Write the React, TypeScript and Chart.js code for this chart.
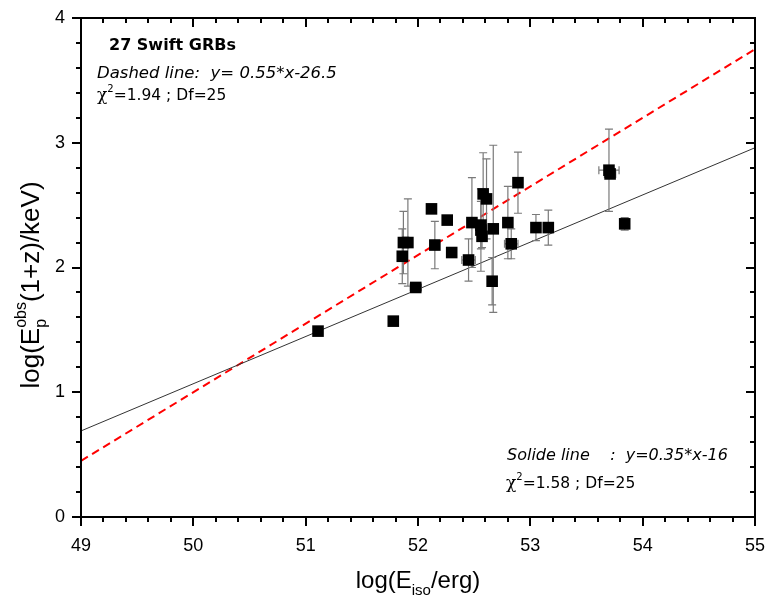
import React, { useEffect, useRef } from "react";
import { Chart, registerables } from "chart.js";

Chart.register(...registerables);

// ---- data ----
const logEiso = [
  51.11, 51.78, 51.86, 51.87, 51.91, 51.98, 52.12, 52.15, 52.26, 52.3,
  52.45, 52.48, 52.56, 52.56, 52.57, 52.58, 52.61, 52.66, 52.67, 52.8,
  52.83, 52.89, 53.05, 53.16, 53.7, 53.71, 53.84,
];
const logEp = [
  1.49, 1.57, 2.09, 2.2, 2.2, 1.84, 2.47, 2.18, 2.38, 2.12,
  2.06, 2.36, 2.34, 2.3, 2.25, 2.59, 2.55, 1.89, 2.31, 2.36,
  2.19, 2.68, 2.32, 2.32, 2.78, 2.75, 2.35,
];
const logEpErr = [
  0, 0, 0.22, 0.25, 0.35, 0.03, 0.02, 0.19, 0, 0,
  0.17, 0.36, 0.19, 0.33, 0.09, 0.33, 0.32, 0.19, 0.67, 0.29,
  0.12, 0.245, 0.105, 0.14, 0.33, 0, 0.05,
];
const logEisoErr = [
  0, 0, 0, 0.03, 0.03, 0.05, 0.04, 0, 0, 0,
  0.06, 0, 0, 0, 0, 0, 0, 0, 0, 0,
  0.06, 0, 0, 0, 0.09, 0.05, 0,
];
const fitX = [49, 55];
const dashedFitY = [0.45, 3.75];
const solidFitY = [0.69, 2.96];
const xTickValues = [49, 50, 51, 52, 53, 54, 55];
const yTickValues = [0, 1, 2, 3, 4];

const TICK_FONT = "'Liberation Sans', Arial, sans-serif";
const NOTE_FONT = "'DejaVu Sans', Verdana, sans-serif";

type Run = { text: string; size: number; dy?: number; bold?: boolean; italic?: boolean; family?: string; group?: number };

function fontOf(r: Run, family: string) {
  return `${r.italic ? "italic " : ""}${r.bold ? "bold " : ""}${r.size}px ${r.family || family}`;
}

// draws runs; runs with same group number share the same start x (stacked sub/sup)
function drawRuns(ctx: CanvasRenderingContext2D, runs: Run[], x: number, y: number, family: string, align: "left" | "center") {
  const widths = runs.map((r) => {
    ctx.font = fontOf(r, family);
    return ctx.measureText(r.text).width;
  });
  let total = 0;
  let i = 0;
  while (i < runs.length) {
    const g = runs[i].group;
    if (g !== undefined) {
      let w = 0;
      while (i < runs.length && runs[i].group === g) {
        w = Math.max(w, widths[i]);
        i++;
      }
      total += w;
    } else {
      total += widths[i];
      i++;
    }
  }
  let cx = align === "center" ? x - total / 2 : x;
  i = 0;
  ctx.textBaseline = "alphabetic";
  ctx.textAlign = "left";
  while (i < runs.length) {
    const g = runs[i].group;
    if (g !== undefined) {
      let w = 0;
      while (i < runs.length && runs[i].group === g) {
        ctx.font = fontOf(runs[i], family);
        ctx.fillText(runs[i].text, cx, y + (runs[i].dy || 0));
        w = Math.max(w, widths[i]);
        i++;
      }
      cx += w;
    } else {
      ctx.font = fontOf(runs[i], family);
      ctx.fillText(runs[i].text, cx, y + (runs[i].dy || 0));
      cx += widths[i];
      i++;
    }
  }
}

const errorBarPlugin = {
  id: "errorBars",
  beforeDatasetDraw(chart: any, args: any) {
    if (args.index !== 2) return;
    const { ctx, scales } = chart;
    const x = scales.x;
    const y = scales.y;
    ctx.save();
    ctx.strokeStyle = "#7a7a7a";
    ctx.lineWidth = 1.2;
    const cap = 4;
    for (let i = 0; i < logEiso.length; i++) {
      const px = x.getPixelForValue(logEiso[i]);
      const py = y.getPixelForValue(logEp[i]);
      if (logEpErr[i] > 0) {
        const y1 = y.getPixelForValue(logEp[i] + logEpErr[i]);
        const y2 = y.getPixelForValue(logEp[i] - logEpErr[i]);
        ctx.beginPath();
        ctx.moveTo(px, y1);
        ctx.lineTo(px, y2);
        ctx.moveTo(px - cap, y1);
        ctx.lineTo(px + cap, y1);
        ctx.moveTo(px - cap, y2);
        ctx.lineTo(px + cap, y2);
        ctx.stroke();
      }
      if (logEisoErr[i] > 0) {
        const x1 = x.getPixelForValue(logEiso[i] - logEisoErr[i]);
        const x2 = x.getPixelForValue(logEiso[i] + logEisoErr[i]);
        ctx.beginPath();
        ctx.moveTo(x1, py);
        ctx.lineTo(x2, py);
        ctx.moveTo(x1, py - cap);
        ctx.lineTo(x1, py + cap);
        ctx.moveTo(x2, py - cap);
        ctx.lineTo(x2, py + cap);
        ctx.stroke();
      }
    }
    ctx.restore();
  },
};

const decorPlugin = {
  id: "decor",
  afterDraw(chart: any) {
    const { ctx, chartArea: a, scales } = chart;
    const x = scales.x;
    const y = scales.y;
    ctx.save();
    ctx.strokeStyle = "#000";
    ctx.lineWidth = 2;
    ctx.strokeRect(a.left, a.top, a.right - a.left, a.bottom - a.top);
    const MAJ = 9;
    const MIN = 5;
    for (let k = 0; k <= 30; k++) {
      const v = 49 + k * 0.2;
      const major = k % 5 === 0;
      const L = major ? MAJ : MIN;
      const px = Math.round(x.getPixelForValue(v));
      ctx.beginPath();
      ctx.moveTo(px, a.bottom);
      ctx.lineTo(px, a.bottom + L);
      ctx.moveTo(px, a.top);
      ctx.lineTo(px, a.top + L);
      ctx.stroke();
    }
    for (let k = 0; k <= 20; k++) {
      const v = k * 0.2;
      const major = k % 5 === 0;
      const L = major ? MAJ : MIN;
      const py = Math.round(y.getPixelForValue(v));
      ctx.beginPath();
      ctx.moveTo(a.left, py);
      ctx.lineTo(a.left - L, py);
      ctx.moveTo(a.right, py);
      ctx.lineTo(a.right - L, py);
      ctx.stroke();
    }

    ctx.fillStyle = "#000";
    // axis titles
    drawRuns(
      ctx,
      [
        { text: "log(E", size: 24 },
        { text: "iso", size: 15, dy: 7 },
        { text: "/erg)", size: 24 },
      ],
      (a.left + a.right) / 2,
      588,
      TICK_FONT,
      "center"
    );
    ctx.save();
    ctx.translate(39, 285);
    ctx.rotate(-Math.PI / 2);
    drawRuns(
      ctx,
      [
        { text: "log(E", size: 26 },
        { text: "p", size: 16, dy: 7, group: 1 },
        { text: "obs", size: 16, dy: -13, group: 1 },
        { text: "(1+z)/keV)", size: 26 },
      ],
      0,
      0,
      TICK_FONT,
      "center"
    );
    ctx.restore();

    // annotations
    drawRuns(ctx, [{ text: "27 Swift GRBs", size: 16, bold: true }], 109, 50, NOTE_FONT, "left");
    drawRuns(ctx, [{ text: "Dashed line:  y= 0.55*x-26.5", size: 16.5, italic: true }], 97, 78, NOTE_FONT, "left");
    drawRuns(
      ctx,
      [
        { text: "χ", size: 17, family: "'DejaVu Serif', serif" },
        { text: "2", size: 10, dy: -8 },
        { text: "=1.94 ; Df=25", size: 15.5 },
      ],
      97,
      100,
      NOTE_FONT,
      "left"
    );
    drawRuns(ctx, [{ text: "Solide line    :  y=0.35*x-16", size: 16, italic: true }], 507, 460, NOTE_FONT, "left");
    drawRuns(
      ctx,
      [
        { text: "χ", size: 17, family: "'DejaVu Serif', serif" },
        { text: "2", size: 10, dy: -8 },
        { text: "=1.58 ; Df=25", size: 15.5 },
      ],
      506,
      488,
      NOTE_FONT,
      "left"
    );
    ctx.restore();
  },
};

function zeroPad(s: any) {
  s.paddingTop = 0;
  s.paddingBottom = 0;
  s.paddingLeft = 0;
  s.paddingRight = 0;
}

export default function App() {
  const ref = useRef<HTMLCanvasElement | null>(null);
  useEffect(() => {
    if (!ref.current) return;
    const chart = new Chart(ref.current, {
      type: "scatter",
      data: {
        datasets: [
          {
            label: "dashed",
            data: fitX.map((v, i) => ({ x: v, y: dashedFitY[i] })),
            showLine: true,
            borderColor: "#ff0000",
            borderWidth: 2,
            borderDash: [8, 5],
            pointRadius: 0,
            fill: false,
            order: 2,
          },
          {
            label: "solid",
            data: fitX.map((v, i) => ({ x: v, y: solidFitY[i] })),
            showLine: true,
            borderColor: "#333333",
            borderWidth: 1,
            pointRadius: 0,
            fill: false,
            order: 1,
          },
          {
            label: "GRBs",
            data: logEiso.map((v, i) => ({ x: v, y: logEp[i] })),
            pointStyle: "rect",
            pointRadius: 8.2,
            pointBorderWidth: 0,
            backgroundColor: "#000",
            borderColor: "#000",
            order: 0,
          },
        ],
      },
      options: {
        responsive: false,
        animation: false,
        events: [],
        layout: { padding: { top: 18, right: 22, left: 0, bottom: 0 } },
        plugins: { legend: { display: false }, tooltip: { enabled: false } },
        scales: {
          x: {
            type: "linear",
            min: 49,
            max: 55,
            afterFit: (s: any) => {
              s.height = 81;
              zeroPad(s);
            },
            afterBuildTicks: (s: any) => {
              s.ticks = xTickValues.map((v) => ({ value: v }));
            },
            grid: { display: false, drawTicks: false },
            border: { display: false },
            ticks: {
              padding: 18,
              color: "#000",
              font: { family: TICK_FONT, size: 18 },
              maxRotation: 0,
              autoSkip: false,
            },
          },
          y: {
            type: "linear",
            min: 0,
            max: 4,
            afterFit: (s: any) => {
              s.width = 81;
              zeroPad(s);
            },
            afterBuildTicks: (s: any) => {
              s.ticks = yTickValues.map((v) => ({ value: v }));
            },
            grid: { display: false, drawTicks: false },
            border: { display: false },
            ticks: {
              padding: 16,
              color: "#000",
              font: { family: TICK_FONT, size: 18 },
              autoSkip: false,
            },
          },
        },
      },
      plugins: [errorBarPlugin, decorPlugin],
    });
    return () => chart.destroy();
  }, []);
  return (
    <div style={{ position: "fixed", left: 0, top: 0, width: 777, height: 598, background: "#fff" }}>
      <canvas ref={ref} width={777} height={598} style={{ width: 777, height: 598, display: "block" }} />
    </div>
  );
}
